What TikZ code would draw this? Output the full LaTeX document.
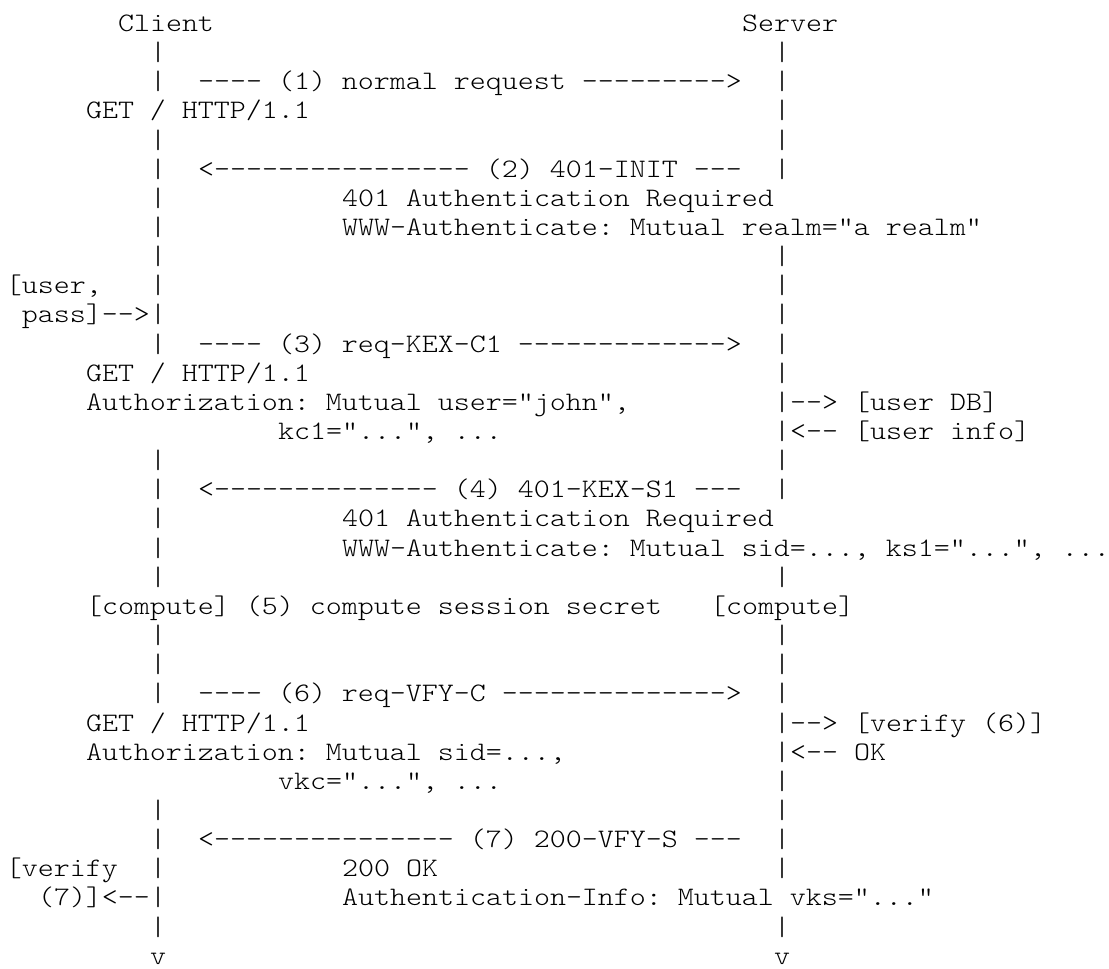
\documentclass[tikz,border=0pt]{standalone}
\usepackage{fontspec}
\usepackage{graphicx}
\setmonofont{lmmonolt10-regular.otf}
% character grid: 16pt per column, 29.15pt per row
\newcommand\gridx[1]{6+16*#1}
\newcommand\gridy[1]{-31.4-29.15*#1}
\tikzset{
  asc/.style={anchor=base west, inner sep=0pt, outer sep=0pt,
    font=\ttfamily\fontsize{26.67}{29.15}\selectfont\frenchspacing}
}
% \ascii{name}{column}{row}{text}; glyphs widened to a 16pt cell
\newcommand\ascii[4]{\node[asc] (#1) at ({\gridx{#2}},{\gridy{#3}}) {\scalebox{1.1427}[1]{#4}};}
\begin{document}
\begin{tikzpicture}[x=1pt,y=1pt]
\fill[white] (0,0) rectangle (1109,-969);
\useasboundingbox (0,0) rectangle (1109,-969);

% participants
\ascii{client}{7}{0}{Client}
\ascii{server}{46}{0}{Server}

% lifelines
\foreach \r in {1,2,4,5,6,7,8,9,10,11,15,16,17,18,19,21,22,23,27,28,29,30,31}
  \ascii{cbar\r}{9}{\r}{|};
\foreach \r in {1,2,3,4,5,8,9,10,11,12,13,14,15,16,19,21,22,23,24,25,26,27,28,29,31}
  \ascii{sbar\r}{48}{\r}{|};
\ascii{cend}{9}{32}{v}
\ascii{send}{48}{32}{v}

% (1) normal request
\ascii{m1}{12}{2}{---- (1) normal request --------->}
\ascii{m1a}{5}{3}{GET / HTTP/1.1}

% (2) 401-INIT
\ascii{m2}{12}{5}{<---------------- (2) 401-INIT ---}
\ascii{m2a}{21}{6}{401 Authentication Required}
\ascii{m2b}{21}{7}{WWW-Authenticate: Mutual realm="a realm"}

% user input
\ascii{in1}{0}{9}{[user,}
\ascii{in2}{1}{10}{pass]-->}

% (3) req-KEX-C1
\ascii{m3}{12}{11}{---- (3) req-KEX-C1 ------------->}
\ascii{m3a}{5}{12}{GET / HTTP/1.1}
\ascii{m3b}{5}{13}{Authorization: Mutual user="john",}
\ascii{m3c}{17}{14}{kc1="...", ...}
\ascii{db1}{49}{13}{--> [user DB]}
\ascii{db2}{49}{14}{<-- [user info]}

% (4) 401-KEX-S1
\ascii{m4}{12}{16}{<-------------- (4) 401-KEX-S1 ---}
\ascii{m4a}{21}{17}{401 Authentication Required}
\ascii{m4b}{21}{18}{WWW-Authenticate: Mutual sid=..., ks1="...", ...}

% (5) session secret
\ascii{m5}{5}{20}{[compute] (5) compute session secret}
\ascii{m5s}{44}{20}{[compute]}

% (6) req-VFY-C
\ascii{m6}{12}{23}{---- (6) req-VFY-C -------------->}
\ascii{m6a}{5}{24}{GET / HTTP/1.1}
\ascii{m6b}{5}{25}{Authorization: Mutual sid=...,}
\ascii{m6c}{17}{26}{vkc="...", ...}
\ascii{vf1}{49}{24}{--> [verify (6)]}
\ascii{vf2}{49}{25}{<-- OK}

% (7) 200-VFY-S
\ascii{m7}{12}{28}{<--------------- (7) 200-VFY-S ---}
\ascii{m7a}{21}{29}{200 OK}
\ascii{m7b}{21}{30}{Authentication-Info: Mutual vks="..."}
\ascii{cv1}{0}{29}{[verify}
\ascii{cv2}{2}{30}{(7)]<--}
\end{tikzpicture}
\end{document}
